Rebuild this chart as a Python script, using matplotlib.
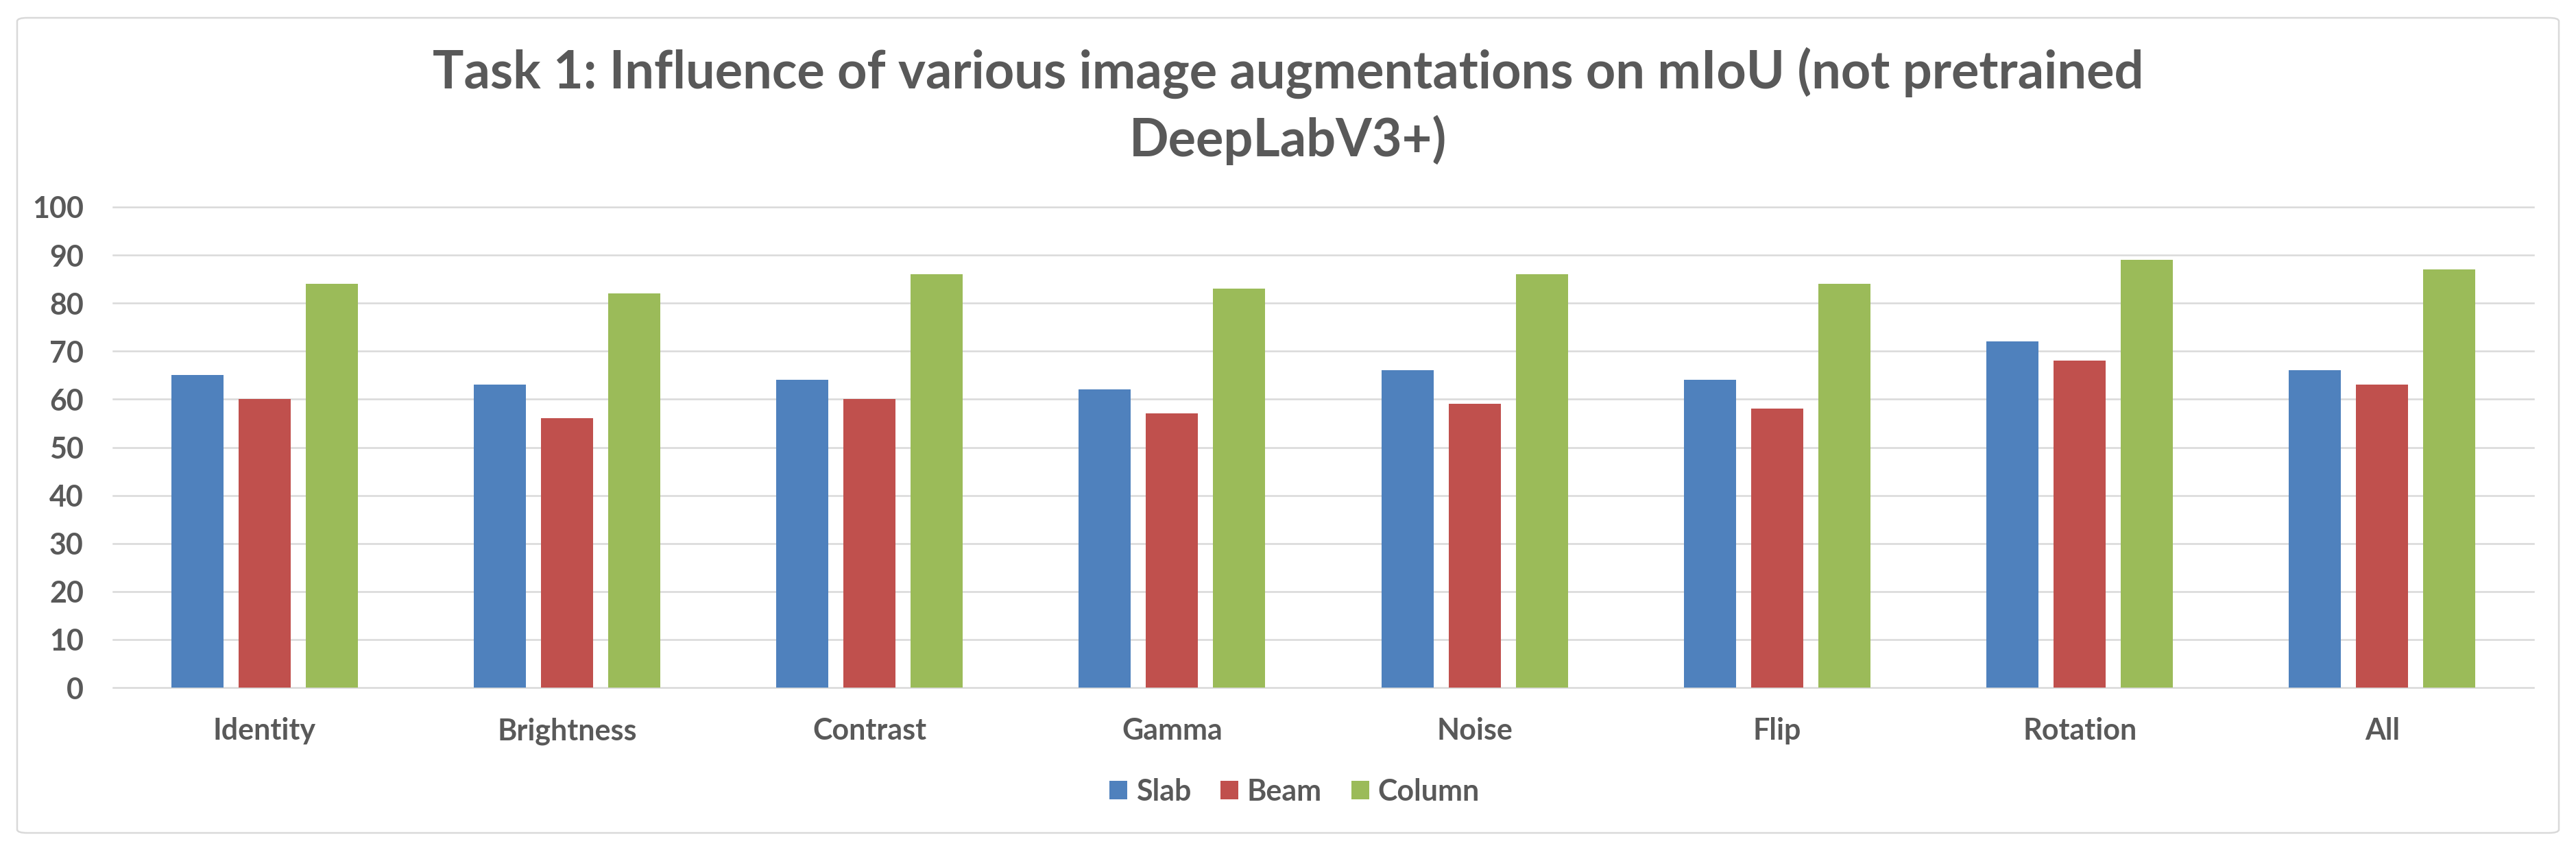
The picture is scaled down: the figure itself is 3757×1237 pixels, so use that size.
import numpy as np
import matplotlib
matplotlib.use("Agg")
import matplotlib.pyplot as plt
from matplotlib.patches import FancyBboxPatch

# data
categories = ["Identity", "Brightness", "Contrast", "Gamma", "Noise", "Flip", "Rotation", "All"]
slab = [65, 63, 64, 62, 66, 64, 72, 66]
beam = [60, 56, 60, 57, 59, 58, 68, 63]
column = [84, 82, 86, 83, 86, 84, 89, 87]
series_names = ["Slab", "Beam", "Column"]
title_lines = ["Task 1: Influence of various image augmentations on mIoU (not pretrained",
               "DeepLabV3+)"]
yticks = [0, 10, 20, 30, 40, 50, 60, 70, 80, 90, 100]

colors = ["#4F81BD", "#C0504D", "#9BBB59"]
text_col = "#595959"
grid_col = "#D9D9D9"

plt.rcParams['font.family'] = ['Lato', 'DejaVu Sans']
plt.rcParams['font.weight'] = 'bold'

W, H = 3757, 1237
fig = plt.figure(figsize=(W / 100, H / 100), dpi=100)

# plot area
ax = fig.add_axes([165 / W, 1 - 1003 / H, (3695 - 165) / W, (1003 - 302) / H])

x = np.arange(len(categories))
width = 0.172
step = 0.222
for i, (name, vals) in enumerate(zip(series_names, [slab, beam, column])):
    ax.bar(x + (i - 1) * step, vals, width, color=colors[i], label=name, zorder=3)

ax.set_xlim(-0.5, len(categories) - 0.5)
ax.set_ylim(0, 100)
ax.set_yticks(yticks)
ax.set_xticks(x)
ax.set_xticklabels(categories)
ax.tick_params(axis='both', length=0, colors=text_col, labelsize=31)
ax.tick_params(axis='y', pad=31)
ax.tick_params(axis='x', pad=31)
for lab in ax.get_xticklabels() + ax.get_yticklabels():
    lab.set_fontweight('bold')

for s in ax.spines.values():
    s.set_visible(False)
for yv in yticks:
    ax.axhline(yv, color=grid_col, lw=1.8, zorder=1, clip_on=False)

# title
fig.text(0.5, 1 - 129 / H, title_lines[0], ha='center', va='baseline',
         fontsize=54.5, fontweight='bold', color=text_col)
fig.text(0.5, 1 - 228 / H, title_lines[1], ha='center', va='baseline',
         fontsize=54.5, fontweight='bold', color=text_col)

# legend
leg = fig.legend(loc='center', bbox_to_anchor=(0.5025, 1 - 1155 / H), ncol=3,
                 frameon=False, fontsize=31, handlelength=0.6, handleheight=0.6,
                 handletextpad=0.3, columnspacing=1.0)
for t in leg.get_texts():
    t.set_color(text_col)
    t.set_fontweight('bold')

# chart border
border = FancyBboxPatch((25 / W, 1 - 1215 / H), (3732 - 25) / W, (1215 - 26) / H,
                        boxstyle="round,pad=0,rounding_size=0.004",
                        transform=fig.transFigure, fill=False,
                        edgecolor=grid_col, lw=1.8)
fig.patches.append(border)

fig.savefig("out.png", dpi=100, facecolor="white")
